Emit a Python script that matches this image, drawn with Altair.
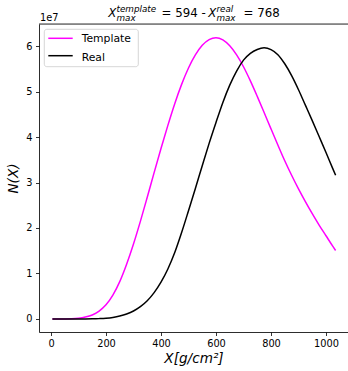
import altair as alt
import pandas as pd

# Depth grid (g/cm^2)
X = [5, 25, 50, 75, 100, 125, 150, 175, 200, 225, 250, 275, 300, 325, 350, 375,
     400, 425, 450, 475, 500, 525, 550, 575, 600, 625, 650, 675, 700, 725, 750,
     775, 800, 825, 850, 875, 900, 925, 950, 975, 1000, 1025, 1035]

# N(X) in units of 1e7
template = [0.0, 0.0, 0.001, 0.004, 0.015, 0.042, 0.089, 0.174, 0.312, 0.524, 0.821,
            1.203, 1.648, 2.146, 2.676, 3.217, 3.747, 4.256, 4.733, 5.157, 5.517,
            5.803, 6.015, 6.142, 6.184, 6.134, 6.004, 5.804, 5.544, 5.234, 4.894,
            4.539, 4.179, 3.824, 3.479, 3.159, 2.859, 2.579, 2.314, 2.064, 1.829,
            1.595, 1.505]
real = [0.0, 0.0, 0.0, 0.0002, 0.0005, 0.001, 0.003, 0.008, 0.017, 0.035, 0.065,
        0.11, 0.175, 0.27, 0.40, 0.58, 0.81, 1.10, 1.46, 1.90, 2.38, 2.87,
        3.37, 3.86, 4.32, 4.76, 5.14, 5.45, 5.69, 5.84, 5.925, 5.96, 5.92,
        5.81, 5.61, 5.35, 5.04, 4.70, 4.36, 4.01, 3.66, 3.30, 3.16]

series = ["Template", "Real"]
colors = ["magenta", "black"]
x_ticks = [0, 200, 400, 600, 800, 1000]
y_ticks = [0, 1, 2, 3, 4, 5, 6]

rows = []
for name, vals in zip(series, [template, real]):
    for xv, yv in zip(X, vals):
        rows.append({"X": xv, "N": yv * 1e7, "series": name})
df = pd.DataFrame(rows)
one = pd.DataFrame({"a": [0]})

W, H = 309, 308
FONT = "DejaVu Sans"

lines = alt.Chart(df).mark_line(strokeWidth=1.5, interpolate="monotone").encode(
    x=alt.X("X:Q", scale=alt.Scale(domain=[-43.6, 1080], nice=False, zero=False),
            axis=alt.Axis(values=x_ticks, format="d", title="X[g/cm²]", grid=False,
                          labelFontSize=9.8, titleFontSize=13.6, titleFontStyle="italic",
                          titleFontWeight="normal", titlePadding=3, labelPadding=3,
                          tickSize=3.5, tickColor="black", tickWidth=0.8,
                          domainColor="black", domainWidth=0.8, labelColor="black",
                          titleColor="black", labelFont=FONT, titleFont=FONT)),
    y=alt.Y("N:Q", scale=alt.Scale(domain=[-0.286e7, 6.484e7], nice=False, zero=False),
            axis=alt.Axis(values=[v * 1e7 for v in y_ticks],
                          labelExpr="format(datum.value / 1e7, 'd')",
                          title="N(X)", grid=False, labelFontSize=9.8,
                          titleFontSize=13.6, titleFontStyle="italic",
                          titleFontWeight="normal", titlePadding=5, labelPadding=3.5,
                          tickSize=3.5, tickColor="black", tickWidth=0.8,
                          domainColor="black", domainWidth=0.8, labelColor="black",
                          titleColor="black", labelFont=FONT, titleFont=FONT)),
    color=alt.Color("series:N", scale=alt.Scale(domain=series, range=colors), legend=None),
    detail="series:N",
)

top_spine = alt.Chart(one).mark_rule(color="black", strokeWidth=0.8).encode(
    x=alt.value(0), x2=alt.value(W), y=alt.value(0))


def txt(t, x_abs, y_abs, size, italic=False, color="black"):
    return alt.Chart(one).mark_text(
        align="left", baseline="alphabetic", fontSize=size, font=FONT,
        fontStyle="italic" if italic else "normal", color=color
    ).encode(x=alt.value(x_abs - 39), y=alt.value(y_abs - 24), text=alt.value(t))


title_parts = [
    txt("X", 108.3, 17.3, 11.8, True),
    txt("template", 116.5, 12.0, 8.8, True),
    txt("max", 116.5, 20.8, 8.8, True),
    txt("= 594 -", 161.5, 17.3, 11.8),
    txt("X", 208.2, 17.3, 11.8, True),
    txt("real", 216.4, 12.0, 8.8, True),
    txt("max", 216.4, 20.8, 8.8, True),
    txt("= 768", 243.5, 17.3, 11.8),
    txt("1e7", 40, 20.8, 9.8),
]

legend_box = alt.Chart(one).mark_rect(
    fill="white", fillOpacity=0.8, stroke="#cccccc", strokeWidth=0.8, cornerRadius=2.5
).encode(x=alt.value(5.3), x2=alt.value(99.3), y=alt.value(5.3), y2=alt.value(42.7))
leg_lines = [
    alt.Chart(one).mark_rule(color=c, strokeWidth=1.5).encode(
        x=alt.value(9.3), x2=alt.value(33.7), y=alt.value(yy))
    for c, yy in zip(colors, [14.3, 31.7])
]
leg_texts = [
    txt(s, 81.7, yy, 10.8) for s, yy in zip(series, [42.3, 60.5])
]

chart = alt.layer(lines, top_spine, legend_box, *leg_lines, *leg_texts, *title_parts).properties(
    width=W, height=H,
    autosize=alt.AutoSizeParams(type="none"),
    padding={"left": 39, "top": 24, "right": 0, "bottom": 39},
).configure_view(stroke=None).configure(font=FONT)

chart.save("out.html", embed_options={"renderer": "svg", "actions": False})
